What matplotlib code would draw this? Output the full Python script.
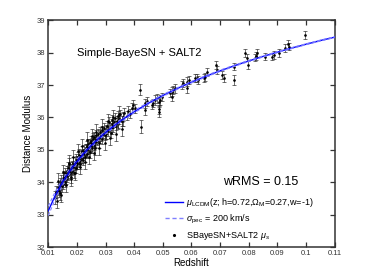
import matplotlib
matplotlib.use("Agg")
import matplotlib.pyplot as plt
from matplotlib.lines import Line2D

plt.rcParams['font.family'] = ['Liberation Sans', 'DejaVu Sans']
plt.rcParams['mathtext.fontset'] = 'custom'
plt.rcParams['mathtext.rm'] = 'Liberation Sans'
plt.rcParams['mathtext.it'] = 'Liberation Sans:italic'

# ---- model curve (LCDM, h=0.72, Om=0.27) ----
z_model = [0.010, 0.0125, 0.015, 0.0175, 0.020, 0.0225, 0.025, 0.0275, 0.030, 0.035,
           0.040, 0.045, 0.050, 0.055, 0.060, 0.065, 0.070, 0.075, 0.080, 0.085,
           0.090, 0.095, 0.100, 0.105, 0.110]
mu_model = [33.116, 33.605, 34.005, 34.344, 34.638, 34.899, 35.132, 35.343, 35.536, 35.879,
            36.177, 36.441, 36.678, 36.893, 37.090, 37.271, 37.440, 37.598, 37.745, 37.885,
            38.017, 38.142, 38.261, 38.374, 38.480]
sig_pec = [0.145, 0.116, 0.097, 0.083, 0.072, 0.064, 0.058, 0.053, 0.048, 0.041,
           0.036, 0.032, 0.029, 0.026, 0.024, 0.022, 0.021, 0.019, 0.018, 0.017,
           0.016, 0.015, 0.0145, 0.0138, 0.013]

# ---- SN data ----
z_sn = [0.0122, 0.0128, 0.0131, 0.0134, 0.0137, 0.0140, 0.0142, 0.0145, 0.0148, 0.0150,
        0.0152, 0.0155, 0.0157, 0.0160, 0.0162, 0.0164, 0.0166, 0.0168, 0.0170, 0.0172,
        0.0174, 0.0176, 0.0178, 0.0180, 0.0182, 0.0184, 0.0186, 0.0188, 0.0190, 0.0192,
        0.0194, 0.0196, 0.0198, 0.0200, 0.0202, 0.0204, 0.0206, 0.0208, 0.0210, 0.0212,
        0.0214, 0.0216, 0.0218, 0.0220, 0.0222, 0.0224, 0.0226, 0.0228, 0.0230, 0.0232,
        0.0234, 0.0236, 0.0238, 0.0240, 0.0242, 0.0244, 0.0246, 0.0248, 0.0250, 0.0252,
        0.0254, 0.0256, 0.0258, 0.0260, 0.0262, 0.0264, 0.0266, 0.0268, 0.0270, 0.0272,
        0.0275, 0.0278, 0.0280, 0.0283, 0.0286, 0.0289, 0.0292, 0.0295, 0.0298, 0.0300,
        0.0303, 0.0306, 0.0309, 0.0312, 0.0315, 0.0318, 0.0321, 0.0324, 0.0327, 0.0330,
        0.0333, 0.0336, 0.0339, 0.0342, 0.0345, 0.0348, 0.0352, 0.0356, 0.0360, 0.0365,
        0.0375, 0.0380, 0.0386, 0.0392, 0.0397, 0.0403, 0.0421, 0.0424, 0.0438, 0.0438,
        0.0446, 0.0462, 0.0467, 0.0473, 0.0479, 0.0485, 0.0485, 0.0487, 0.0491, 0.0497,
        0.0526, 0.0531, 0.0531, 0.0537, 0.0543, 0.0566, 0.0572, 0.0584, 0.0584, 0.0590,
        0.0613, 0.0619, 0.0624, 0.0642, 0.0648, 0.0654, 0.0685, 0.0689, 0.0708, 0.0712,
        0.0749, 0.0750, 0.0788, 0.0794, 0.0799, 0.0820, 0.0826, 0.0829, 0.0855, 0.0881,
        0.0887, 0.0904, 0.0925, 0.0937, 0.0942, 0.0995,
        0.0135, 0.0143, 0.0153, 0.0163, 0.0171, 0.0179, 0.0187, 0.0195, 0.0203, 0.0211,
        0.0219, 0.0227, 0.0235, 0.0243, 0.0251, 0.0259, 0.0267, 0.0277, 0.0287, 0.0297,
        0.0307, 0.0317, 0.0327, 0.0337, 0.0347, 0.0357,
        0.0139, 0.0158, 0.0169, 0.0183, 0.0199, 0.0215, 0.0231, 0.0247, 0.0263, 0.0282,
        0.0302, 0.0322, 0.0342, 0.0362]
mu_sn = [33.52, 33.70, 33.42, 33.85, 33.74, 33.95, 33.66, 34.05, 33.88, 34.12,
         33.95, 34.20, 34.02, 34.28, 34.10, 34.35, 34.18, 34.45, 34.22, 34.38,
         34.55, 34.30, 34.42, 34.15, 34.50, 34.36, 34.60, 34.48, 34.30, 34.62,
         34.52, 34.70, 34.45, 34.66, 34.55, 34.78, 34.62, 34.85, 34.70, 34.55,
         34.82, 34.95, 34.75, 34.88, 34.68, 35.00, 34.90, 34.78, 35.05, 34.95,
         35.12, 34.88, 35.02, 35.18, 35.08, 34.92, 35.20, 35.12, 35.28, 35.05,
         35.22, 35.35, 35.15, 35.40, 35.25, 35.05, 35.32, 35.45, 35.28, 35.50,
         35.38, 35.22, 35.55, 35.42, 35.60, 35.35, 35.50, 35.68, 35.45, 35.62,
         35.48, 35.75, 35.58, 35.85, 35.68, 35.52, 35.80, 35.92, 35.70, 35.85,
         35.98, 35.75, 35.90, 36.05, 35.82, 35.95, 36.10, 35.88, 36.02, 36.15,
         36.05, 36.20, 36.12, 36.30, 36.39, 36.28, 36.85, 35.72, 36.44, 36.23,
         36.50, 36.39, 36.44, 36.54, 36.59, 36.49, 36.26, 36.16, 36.54, 36.64,
         36.75, 36.80, 36.64, 36.85, 36.90, 37.00, 37.06, 37.11, 36.90, 37.16,
         37.21, 37.21, 37.16, 37.21, 37.26, 37.41, 37.62, 37.47, 37.31, 37.21,
         37.16, 37.57, 37.98, 37.85, 37.62, 37.85, 37.90, 37.98, 37.88, 37.88,
         37.93, 37.98, 38.14, 38.27, 38.19, 38.55,
         34.05, 33.62, 34.32, 33.92, 34.60, 34.10, 34.78, 34.30, 34.95, 34.48,
         35.12, 34.62, 35.30, 34.78, 35.42, 34.90, 35.55, 35.05, 35.72, 35.20,
         35.88, 35.38, 36.02, 35.50, 36.12, 35.65,
         33.80, 34.12, 34.30, 34.44, 34.60, 34.80, 34.98, 35.10, 35.25, 35.40,
         35.55, 35.70, 35.83, 35.95]
err_sn = [0.20, 0.18, 0.22, 0.17, 0.19, 0.18, 0.20, 0.16, 0.18, 0.17,
          0.16, 0.15, 0.18, 0.16, 0.17, 0.15, 0.16, 0.18, 0.15, 0.16,
          0.20, 0.16, 0.15, 0.17, 0.16, 0.15, 0.17, 0.15, 0.16, 0.15,
          0.14, 0.16, 0.15, 0.15, 0.14, 0.16, 0.15, 0.17, 0.14, 0.15,
          0.14, 0.16, 0.15, 0.14, 0.16, 0.15, 0.14, 0.15, 0.14, 0.15,
          0.16, 0.14, 0.15, 0.14, 0.15, 0.16, 0.14, 0.15, 0.15, 0.14,
          0.14, 0.16, 0.15, 0.14, 0.15, 0.20, 0.14, 0.15, 0.14, 0.15,
          0.14, 0.15, 0.14, 0.15, 0.14, 0.16, 0.14, 0.15, 0.14, 0.14,
          0.15, 0.14, 0.14, 0.15, 0.14, 0.15, 0.14, 0.15, 0.14, 0.14,
          0.15, 0.14, 0.14, 0.15, 0.15, 0.14, 0.14, 0.15, 0.14, 0.14,
          0.14, 0.15, 0.14, 0.15, 0.14, 0.14, 0.17, 0.20, 0.14, 0.14,
          0.14, 0.14, 0.13, 0.14, 0.14, 0.13, 0.14, 0.15, 0.14, 0.13,
          0.13, 0.13, 0.14, 0.13, 0.13, 0.13, 0.12, 0.13, 0.13, 0.12,
          0.12, 0.12, 0.12, 0.12, 0.12, 0.12, 0.12, 0.12, 0.12, 0.12,
          0.16, 0.12, 0.12, 0.12, 0.12, 0.12, 0.12, 0.12, 0.12, 0.12,
          0.12, 0.12, 0.12, 0.12, 0.12, 0.13,
          0.22, 0.22, 0.22, 0.22, 0.24, 0.22, 0.22, 0.22, 0.24, 0.22,
          0.22, 0.22, 0.24, 0.22, 0.22, 0.22, 0.24, 0.22, 0.22, 0.22,
          0.24, 0.22, 0.22, 0.22, 0.22, 0.22,
          0.20, 0.20, 0.20, 0.20, 0.20, 0.20, 0.20, 0.20, 0.20, 0.20,
          0.20, 0.20, 0.20, 0.20]

xticks = [0.01, 0.02, 0.03, 0.04, 0.05, 0.06, 0.07, 0.08, 0.09, 0.10, 0.11]
xticklabels = ['0.01', '0.02', '0.03', '0.04', '0.05', '0.06', '0.07', '0.08', '0.09', '0.1', '0.11']
yticks = [32, 33, 34, 35, 36, 37, 38, 39]

fig = plt.figure(figsize=(3.70, 2.78), dpi=100)
ax = fig.add_axes([0.1305, 0.1115, 0.7741, 0.8155])

ax.errorbar(z_sn, mu_sn, yerr=err_sn, fmt='none', ecolor='#222222', elinewidth=0.6,
            capsize=1.6, capthick=0.6, alpha=0.75, zorder=2)
ax.plot(z_sn, mu_sn, '.', color='k', markersize=1.8, zorder=3)

ax.plot(z_model, mu_model, color='#0000ff', lw=1.0, zorder=4)
up = [m + s for m, s in zip(mu_model, sig_pec)]
lo = [m - s for m, s in zip(mu_model, sig_pec)]
ax.plot(z_model, up, color='#7f7fff', lw=0.8, ls=(0, (3, 2)), zorder=4)
ax.plot(z_model, lo, color='#7f7fff', lw=0.8, ls=(0, (3, 2)), zorder=4)

ax.set_xlim(0.01, 0.11)
ax.set_ylim(32, 39)
ax.set_xticks(xticks)
ax.set_xticklabels(xticklabels)
ax.set_yticks(yticks)
ax.tick_params(direction='in', length=3.6, width=0.9, top=True, right=True,
               labelsize=5.5, pad=2, colors='#333333', labelcolor='#333333')
for sp in ax.spines.values():
    sp.set_linewidth(1.1)
    sp.set_color('#333333')

ax.set_xlabel('Redshift', fontsize=7, labelpad=1)
ax.set_ylabel('Distance Modulus', fontsize=7, labelpad=3)

ax.text(0.0417, 38.0, 'Simple-BayeSN + SALT2', fontsize=8, ha='center', va='center')
ax.text(0.084, 34.0, 'wRMS = 0.15', fontsize=9, ha='center', va='center')

handles = [Line2D([], [], color='#0000ff', lw=1.0),
           Line2D([], [], color='#7f7fff', lw=1.0, ls=(0, (3, 2))),
           Line2D([], [], color='k', marker='.', ls='none', markersize=2.5)]
labels = [r'$\mu_{\rm LCDM}$(z; h=0.72,$\Omega_{\rm M}$=0.27,w=-1)',
          r'$\sigma_{\rm pec}$ = 200 km/s',
          r'SBayeSN+SALT2 $\mu_{s}$']
ax.legend(handles, labels, loc='upper left', bbox_to_anchor=(0.4075, 0.225),
          frameon=False, fontsize=6.5, handlelength=2.0, handletextpad=0.3,
          labelspacing=0.4, borderpad=0, borderaxespad=0)

fig.savefig('out.png', dpi=100)
